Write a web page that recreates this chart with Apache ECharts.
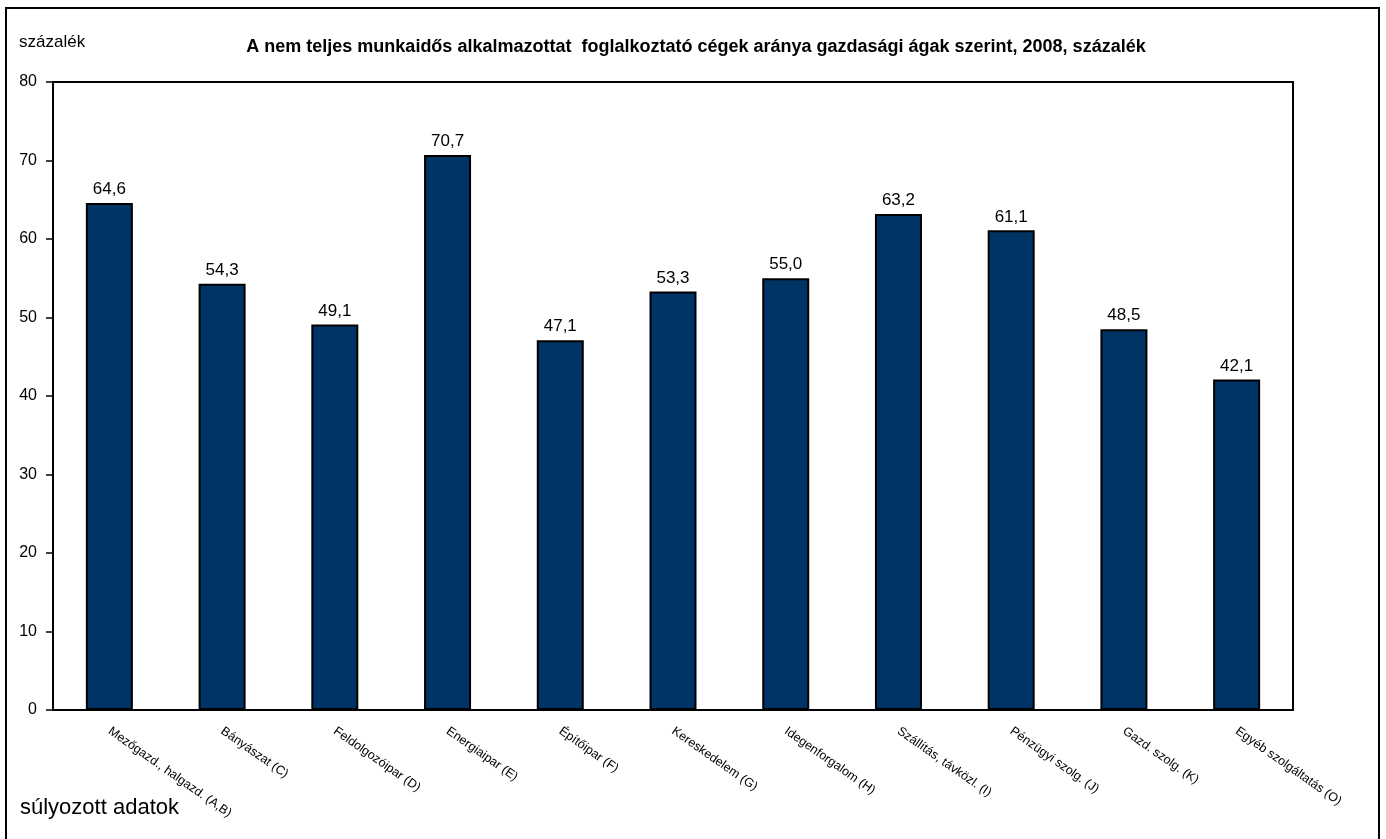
<!DOCTYPE html>
<html>
<head>
<meta charset="utf-8">
<script src="https://cdn.jsdelivr.net/npm/echarts@6/dist/echarts.min.js"></script>
<style>
html, body { margin: 0; padding: 0; background: #fff; }
#main { width: 1386px; height: 839px; }
</style>
</head>
<body>
<div id="main"></div>
<script>
// adatok
const agak = ['Mezőgazd., halgazd. (A,B)', 'Bányászat (C)', 'Feldolgozóipar (D)', 'Energiaipar (E)',
  'Építőipar (F)', 'Kereskedelem (G)', 'Idegenforgalom (H)', 'Szállítás, távközl. (I)',
  'Pénzügyi szolg. (J)', 'Gazd. szolg. (K)', 'Egyéb szolgáltatás (O)'];
const arany = [64.6, 54.3, 49.1, 70.7, 47.1, 53.3, 55.0, 63.2, 61.1, 48.5, 42.1];
const cim = 'A nem teljes munkaidős alkalmazottat  foglalkoztató cégek aránya gazdasági ágak szerint, 2008, százalék';

const chart = echarts.init(document.getElementById('main'));

const option = {
  animation: false,
  textStyle: { fontFamily: 'Liberation Sans, Arial, sans-serif', color: '#000' },
  title: {
    text: cim,
    left: 691, top: 33, textAlign: 'center',
    textStyle: { fontSize: 18, fontWeight: 'bold', color: '#000' }
  },
  graphic: [
    // külső keret
    { type: 'rect', shape: { x: 6, y: 8, width: 1373, height: 845 },
      style: { fill: 'none', stroke: '#000', lineWidth: 2 } },
    { type: 'text', left: 19, top: 34, style: { text: 'százalék', fontSize: 17, fill: '#000' } },
    { type: 'text', left: 20, top: 797, style: { text: 'súlyozott adatok', fontSize: 22, fill: '#000' } }
  ],
  grid: {
    left: 53, right: 93, top: 82, bottom: 129,
    show: true, borderColor: '#000', borderWidth: 2, backgroundColor: 'transparent'
  },
  xAxis: {
    type: 'category',
    data: agak,
    axisLine: { lineStyle: { color: '#000', width: 2 } },
    axisTick: { length: 6, lineStyle: { color: '#000', width: 1.5 } },
    axisLabel: { rotate: -35, fontSize: 12.5, color: '#000', margin: 20, interval: 0 }
  },
  yAxis: {
    type: 'value',
    min: 0, max: 80, interval: 10,
    axisLine: { show: true, lineStyle: { color: '#000', width: 2 } },
    axisTick: { show: true, length: 7, lineStyle: { color: '#000', width: 1.5 } },
    axisLabel: { fontSize: 16, color: '#000', margin: 16 },
    splitLine: { show: false }
  },
  series: [{
    type: 'bar',
    data: arany,
    barWidth: 47,
    itemStyle: { color: '#003366', borderColor: '#000', borderWidth: 2 },
    label: {
      show: true, position: 'top', fontSize: 17, color: '#000', distance: 5,
      formatter: p => p.value.toFixed(1).replace('.', ',')
    }
  }]
};
chart.setOption(option);
</script>
</body>
</html>
